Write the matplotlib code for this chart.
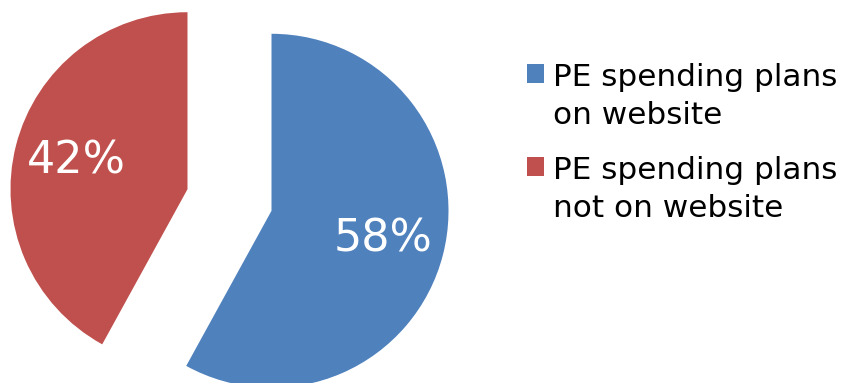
import matplotlib
matplotlib.use("Agg")
import matplotlib.pyplot as plt
from matplotlib.legend_handler import HandlerPatch
from matplotlib.patches import Rectangle

labels = ["PE spending plans\non website", "PE spending plans\nnot on website"]
values = [58, 42]
colors = ["#4F81BD", "#C0504D"]

W, H = 848, 383
fig = plt.figure(figsize=(W / 100, H / 100), dpi=100)
ax = fig.add_axes([0, 0, 1, 1])

wedges, texts, autotexts = ax.pie(
    values, colors=colors, startangle=90, counterclock=False,
    explode=[0.245, 0.245], autopct=lambda p: f"{p:.0f}%",
    pctdistance=0.65, radius=1.0,
    textprops=dict(color="white", fontsize=32),
)

ppu = 177.0
cx, cy = 229.5, 183.0
ax.set_xlim(-cx / ppu, (W - cx) / ppu)
ax.set_ylim(-cy / ppu, (H - cy) / ppu)
ax.set_aspect("auto")
ax.axis("off")


class TopHandler(HandlerPatch):
    def create_artists(self, legend, orig_handle, xdescent, ydescent,
                       width, height, fontsize, trans):
        shift = 0.75 * fontsize
        p = Rectangle((-xdescent, -ydescent + shift), width, height,
                      facecolor=orig_handle.get_facecolor(), edgecolor="none",
                      transform=trans)
        return [p]


leg = fig.legend(
    wedges, labels, loc="upper left",
    bbox_to_anchor=(527 / W, 1 - 63 / H), bbox_transform=fig.transFigure,
    frameon=False, fontsize=22.4, handlelength=0.55, handleheight=0.55,
    handletextpad=0.3, labelspacing=0.82, borderpad=0, borderaxespad=0,
    handler_map={w: TopHandler() for w in wedges},
)
for t in leg.get_texts():
    t.set_linespacing(1.40)

fig.savefig("out.png", dpi=100)
